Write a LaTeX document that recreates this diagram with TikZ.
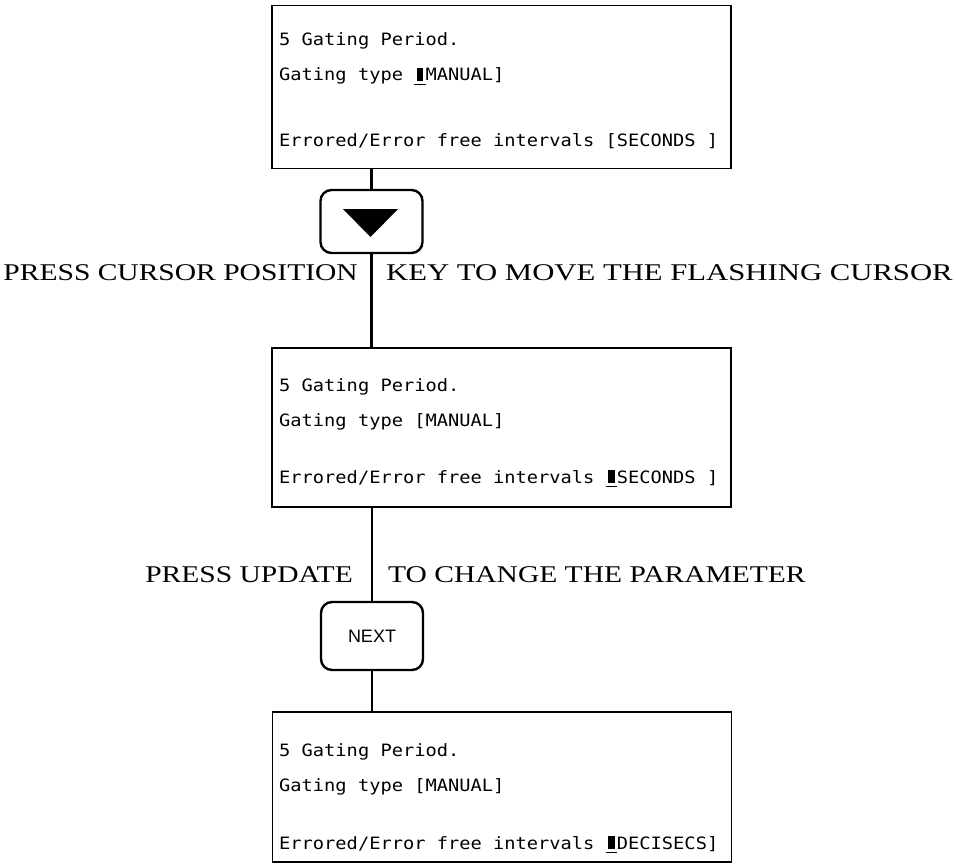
\documentclass[tikz,border=0pt]{standalone}
\usepackage{fontspec}
\usepackage{graphicx}
\setmainfont[FakeStretch=1.23]{Liberation Serif}
\newfontfamily\scr[FakeStretch=1.1]{DejaVu Sans Mono}
\newfontfamily\keyfont{Liberation Sans}
\newcommand\crsr{\setbox0=\hbox{M}\rlap{\rule[-0.24em]{\wd0}{0.09em}}\hbox to\wd0{\hss\rule{0.38em}{0.74em}\hss}}
\begin{document}
\begin{tikzpicture}[x=1pt,y=-1pt,
  screen/.style={draw, line width=1.4pt, minimum width=459pt, inner sep=0pt},
  keybox/.style={draw, rounded corners=11pt, line width=2.4pt, minimum width=102pt, inner sep=0pt},
  wire/.style={line width=2.2pt},
  line/.style={anchor=base west, inner sep=0pt, font=\scr\fontsize{17}{17}\selectfont},
  lbl/.style={inner sep=0pt, font=\fontsize{24}{24}\selectfont}]
\useasboundingbox (0,0) rectangle (956,867);
% screens
\node[screen, minimum height=163pt] (s1) at (501.5,87) {};
\node[screen, minimum height=159pt] (s2) at (501.5,427.5) {};
\node[screen, minimum height=150pt] (s3) at (502,787) {};
% keys
\node[keybox, minimum height=63pt] (k1) at (371.5,221.5) {};
\node[keybox, minimum height=68pt] (k2) at (372,636) {\keyfont\fontsize{18}{18}\selectfont NEXT};
\fill (343,209) -- (398,209) -- (370.5,237) -- cycle;
% connectors
\draw[wire] (s1.south -| k1) -- (k1.north);
\draw[wire] (k1.south) -- (s2.north -| k1);
\draw[wire] (s2.south -| k2) -- (k2.north);
\draw[wire] (k2.south) -- (s3.north -| k2);
% screen texts
\node[line] (a1) at (279,46) {5 Gating Period.};
\node[line] (a2) at (279,81) {Gating type \crsr MANUAL]};
\node[line] (a3) at (279,146) {Errored/Error free intervals [SECONDS ]};
\node[line] (b1) at (279,391) {5 Gating Period.};
\node[line] (b2) at (279,426) {Gating type [MANUAL]};
\node[line] (b3) at (279,483) {Errored/Error free intervals \crsr SECONDS ]};
\node[line] (c1) at (279,756) {5 Gating Period.};
\node[line] (c2) at (279,791) {Gating type [MANUAL]};
\node[line] (c3) at (279,849) {Errored/Error free intervals \crsr DECISECS]};
% labels
\node[lbl, anchor=base east] (l1) at (358,280) {PRESS CURSOR POSITION};
\node[lbl, anchor=base west] (l2) at (386,280) {\scalebox{1.04}[1]{KEY TO MOVE THE FLASHING CURSOR}};
\node[lbl, anchor=base east] (l3) at (353,582) {PRESS UPDATE};
\node[lbl, anchor=base west] (l4) at (388,582) {TO CHANGE THE PARAMETER};
\end{tikzpicture}
\end{document}
